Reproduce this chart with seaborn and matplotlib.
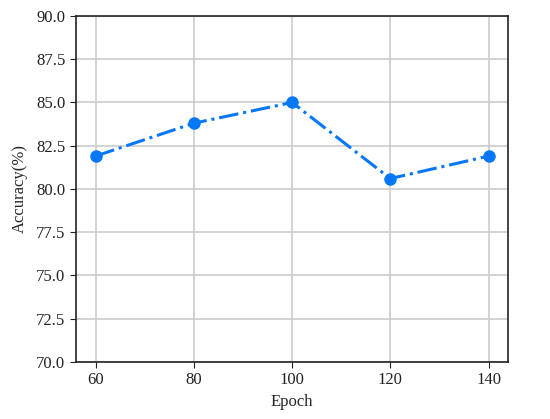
import matplotlib
matplotlib.use("Agg")
import matplotlib.pyplot as plt
import seaborn as sns
import pandas as pd

# Data
epochs = [60, 80, 100, 120, 140]
accuracy = [81.9, 83.8, 85.0, 80.6, 81.9]
y_ticks = [70.0, 72.5, 75.0, 77.5, 80.0, 82.5, 85.0, 87.5, 90.0]

df = pd.DataFrame({"Epoch": epochs, "Accuracy": accuracy})

sns.set_style("ticks")
plt.rcParams["font.family"] = ["Liberation Serif", "DejaVu Serif"]
plt.rcParams["font.size"] = 12

fig = plt.figure(figsize=(5.5, 4.19), dpi=100)
ax = fig.add_axes([0.138, 0.136, 0.786, 0.826])

sns.lineplot(data=df, x="Epoch", y="Accuracy", ax=ax, color="#0577f7",
             linestyle="-.", linewidth=2.2, marker="o", markersize=9,
             markeredgewidth=0)

ax.set_ylim(70, 90)
ax.set_yticks(y_ticks)
ax.set_yticklabels([f"{t:.1f}" for t in y_ticks])
ax.set_xticks(epochs)
ax.grid(True, color="#cccccc", linewidth=1.2)
ax.set_axisbelow(True)
for spine in ax.spines.values():
    spine.set_visible(True)
    spine.set_color("#222222")
    spine.set_linewidth(1.2)
ax.tick_params(colors="#222222", labelsize=12, length=4)
ax.set_xlabel("Epoch", fontsize=12, labelpad=4)
ax.set_ylabel("Accuracy(%)", fontsize=12, labelpad=6)

fig.savefig("out.png", dpi=100)
